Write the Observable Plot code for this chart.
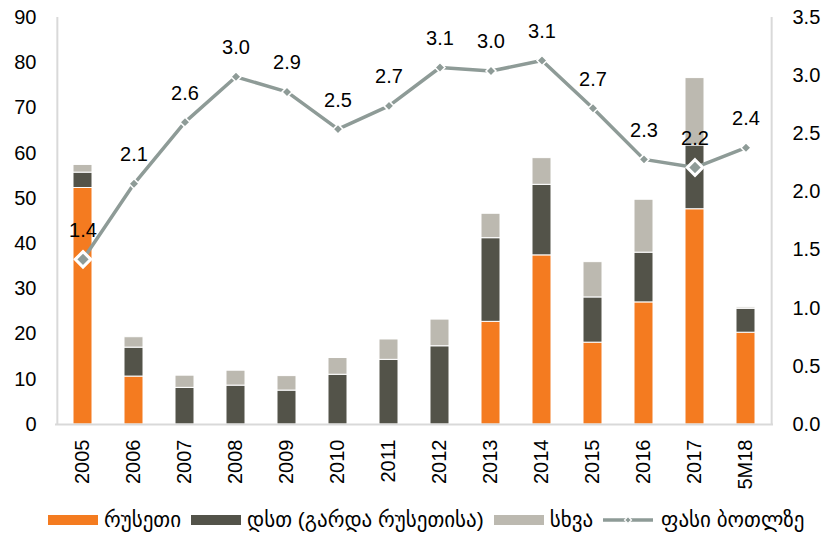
<!DOCTYPE html>
<html><head><meta charset="utf-8">
<script src="https://cdn.jsdelivr.net/npm/d3@7"></script>
<script src="https://cdn.jsdelivr.net/npm/@observablehq/plot@0.6"></script>
<style>
body{margin:0;background:#fff;font-family:"Liberation Sans",Arial,"DejaVu Sans",sans-serif;}
#chart{width:823px;height:500px}
#legend{display:flex;align-items:center;height:44px;padding-left:48px;font-size:21px;color:#000;box-sizing:border-box;padding-bottom:4px}
.sw{width:50px;height:10px;margin-right:6px;flex:none}
.item{display:flex;align-items:center;margin-right:10px;white-space:nowrap}
</style></head><body><div id="chart"></div><div id="legend"></div>
<script>
const years = ["2005","2006","2007","2008","2009","2010","2011","2012","2013","2014","2015","2016","2017","5M18"];
const russia = [52.3,10.6,0,0,0,0,0,0,22.7,37.4,18.1,27.0,47.6,20.3];
const cis    = [3.4,6.4,8.1,8.6,7.5,11.0,14.3,17.3,18.5,15.6,10.0,11.0,14.1,5.3];
const other  = [1.7,2.3,2.7,3.3,3.2,3.7,4.5,5.9,5.4,5.9,7.8,11.7,14.9,0.3];
const price  = [1.42,2.07,2.60,2.99,2.86,2.54,2.74,3.07,3.04,3.13,2.72,2.28,2.21,2.38];
const priceLabels = ["1.4","2.1","2.6","3.0","2.9","2.5","2.7","3.1","3.0","3.1","2.7","2.3","2.2","2.4"];
const seriesNames = ["რუსეთი","დსთ (გარდა რუსეთისა)","სხვა"];
const seriesColors = ["#F47B20","#535349","#BCB9B0"];
const lineName = "ფასი ბოთლზე";
const lineColor = "#8E9B97";
const leftTicks = [0,10,20,30,40,50,60,70,80,90];
const rightTicks = [0,0.5,1.0,1.5,2.0,2.5,3.0,3.5];
const highlighted = ["2005","2017"];

const yMax = 90, y2Max = 3.5;
const k = yMax / y2Max;

const bars = [];
years.forEach((yr, i) => {
  [russia, cis, other].forEach((arr, s) => {
    bars.push({year: yr, series: seriesNames[s], value: arr[i]});
  });
});
const pts = years.map((yr, i) => ({year: yr, price: price[i], label: priceLabels[i], hl: highlighted.includes(yr)}));

const chart = Plot.plot({
  width: 823,
  height: 500,
  marginLeft: 55,
  marginRight: 50,
  marginTop: 17,
  marginBottom: 76,
  style: {fontFamily: '"Liberation Sans", Arial, sans-serif', fontSize: "20px", color: "#000", background: "#fff"},
  x: {domain: years, paddingInner: 0.63, paddingOuter: 0.315, label: null},
  y: {domain: [0, yMax], label: null},
  color: {domain: seriesNames, range: seriesColors},
  marks: [
    Plot.barY(bars, {x: "year", y: "value", fill: "series", stroke: "white", strokeWidth: 1, order: seriesNames}),
    Plot.ruleY([0], {stroke: "#D9D9D9", strokeWidth: 2}),
    Plot.ruleX([years[0]], {dx: -25.65, stroke: "#D9D9D9", strokeWidth: 2}),
    Plot.ruleX([years[years.length - 1]], {dx: 25.65, stroke: "#D9D9D9", strokeWidth: 2}),
    Plot.axisY(leftTicks, {anchor: "left", tickSize: 0, tickPadding: 19, fontSize: 20, label: null}),
    Plot.axisY(rightTicks.map(v => v * k), {anchor: "right", tickSize: 0, tickPadding: 19, fontSize: 20, label: null,
      tickFormat: d => (d / k).toFixed(1)}),
    Plot.axisX({tickSize: 0, tickPadding: 15, tickRotate: -90, fontSize: 20, label: null}),
    Plot.line(pts, {x: "year", y: d => d.price * k, stroke: lineColor, strokeWidth: 3.5}),
    Plot.dot(pts.filter(d => !d.hl), {x: "year", y: d => d.price * k, symbol: "diamond2", r: 4.5, fill: lineColor, stroke: "white", strokeWidth: 1.5}),
    Plot.dot(pts.filter(d => d.hl), {x: "year", y: d => d.price * k, symbol: "diamond2", r: 7, fill: lineColor, stroke: "white", strokeWidth: 3}),
    Plot.text(pts, {x: "year", y: d => d.price * k, text: "label", dy: -29, fontSize: 20, fill: "#000"})
  ]
});
document.getElementById("chart").appendChild(chart);

const legend = document.getElementById("legend");
seriesNames.forEach((n, i) => {
  const it = document.createElement("div");
  it.className = "item";
  it.innerHTML = `<span class="sw" style="background:${seriesColors[i]}"></span><span>${n}</span>`;
  legend.appendChild(it);
});
const li = document.createElement("div");
li.className = "item";
li.innerHTML = `<svg width="50" height="12" style="margin-right:8px;flex:none"><line x1="0" y1="6" x2="50" y2="6" stroke="${lineColor}" stroke-width="3.5"/><path d="M25,2.5L28.5,6L25,9.5L21.5,6Z" fill="${lineColor}" stroke="white" stroke-width="1.2"/></svg><span>${lineName}</span>`;
legend.appendChild(li);
</script>
</body></html>
